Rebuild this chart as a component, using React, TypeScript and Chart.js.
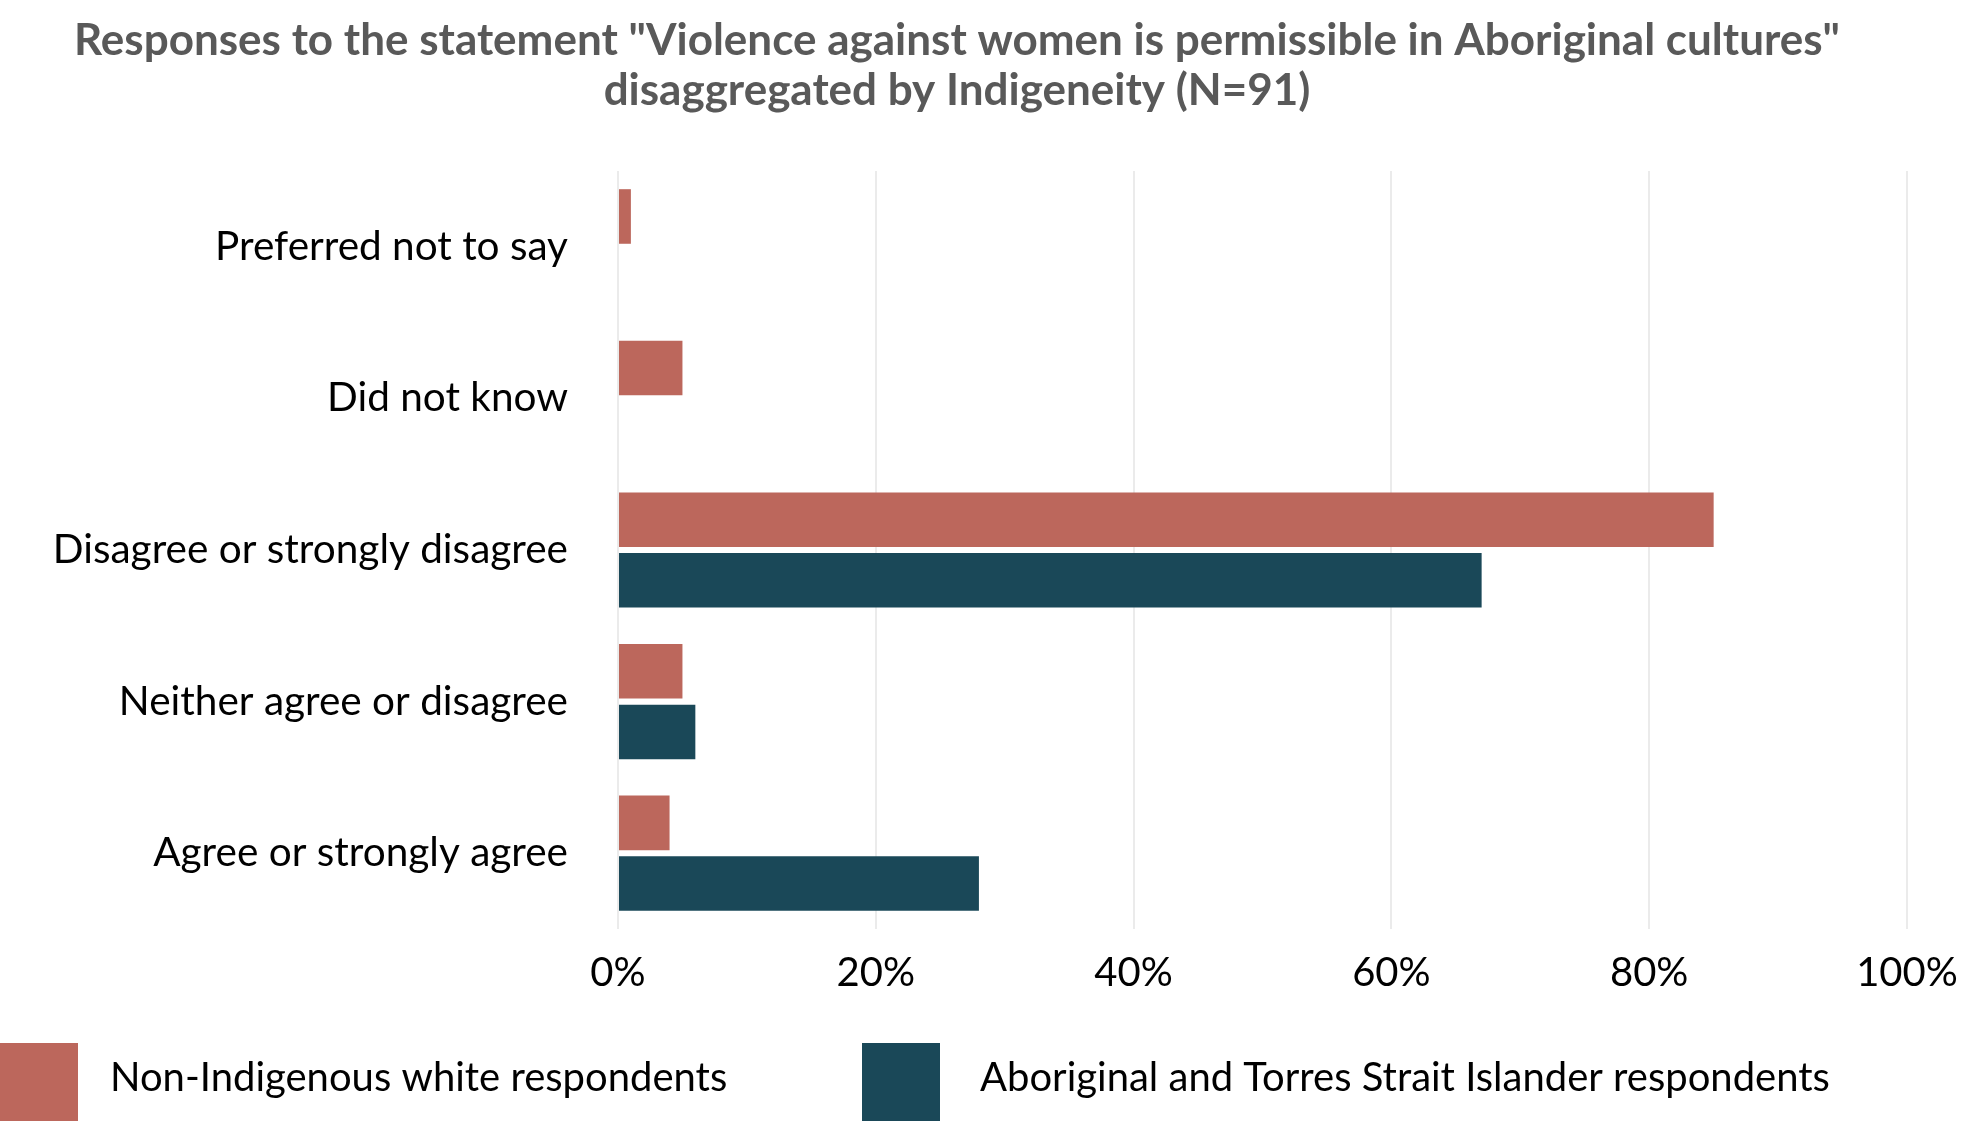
import React, { useEffect, useRef } from "react";
import { Chart, registerables } from "chart.js";

Chart.register(...registerables);

const TITLE_LINES = [
  'Responses to the statement "Violence against women is permissible in Aboriginal cultures"',
  "disaggregated by Indigeneity (N=91)",
];
const CATEGORIES = [
  "Preferred not to say",
  "Did not know",
  "Disagree or strongly disagree",
  "Neither agree or disagree",
  "Agree or strongly agree",
];
const NON_INDIGENOUS = [1, 5, 85, 5, 4];
const ABORIGINAL = [0, 0, 67, 6, 28];
const SERIES_LABELS = [
  "Non-Indigenous white respondents",
  "Aboriginal and Torres Strait Islander respondents",
];
const SERIES_COLORS = ["#bc675c", "#1a4858"];
const X_TICKS = [0, 20, 40, 60, 80, 100];

const FONT = "Lato, 'Open Sans', sans-serif";

const overlayPlugin = {
  id: "overlay",
  afterDraw(chart: any) {
    const ctx = chart.ctx;
    ctx.save();
    ctx.fillStyle = "#595959";
    ctx.font = `bold 44px ${FONT}`;
    ctx.textAlign = "center";
    ctx.textBaseline = "middle";
    TITLE_LINES.forEach((t, i) => ctx.fillText(t, 957, 41 + i * 50));
    const boxX = [0, 862];
    const textX = [110, 980];
    chart.data.datasets.forEach((ds: any, i: number) => {
      ctx.fillStyle = ds.backgroundColor;
      ctx.fillRect(boxX[i], 1043, 78, 78);
      ctx.fillStyle = "#000";
      ctx.font = `40px ${FONT}`;
      ctx.textAlign = "left";
      ctx.fillText(ds.label, textX[i], 1078);
    });
    ctx.restore();
  },
};

export default function App() {
  const ref = useRef<HTMLCanvasElement>(null);
  useEffect(() => {
    if (!ref.current) return;
    const chart = new Chart(ref.current, {
      type: "bar",
      data: {
        labels: CATEGORIES,
        datasets: [
          { label: SERIES_LABELS[0], data: NON_INDIGENOUS, backgroundColor: SERIES_COLORS[0] },
          { label: SERIES_LABELS[1], data: ABORIGINAL, backgroundColor: SERIES_COLORS[1] },
        ],
      },
      options: {
        indexAxis: "y",
        responsive: false,
        animation: false,
        devicePixelRatio: 1,
        categoryPercentage: 0.8,
        barPercentage: 0.9,
        layout: { padding: { top: 171, right: 56, bottom: 112, left: 0 } },
        plugins: {
          legend: { display: false },
          title: { display: false },
          tooltip: { enabled: false },
        },
        scales: {
          x: {
            min: 0,
            max: 100,
            afterBuildTicks(scale: any) {
              scale.ticks = X_TICKS.map((v) => ({ value: v }));
            },
            afterFit(scale: any) {
              scale.height = 80;
              scale.paddingLeft = 0;
              scale.paddingRight = 0;
            },
            grid: { color: "#ebebeb", lineWidth: 2, drawTicks: false },
            border: { display: false },
            ticks: {
              padding: 20,
              color: "#000",
              font: { family: FONT, size: 40 },
              callback: (v: any) => v + "%",
            },
          },
          y: {
            afterFit(scale: any) {
              scale.width = 618;
            },
            grid: { display: false, drawTicks: false },
            border: { display: false },
            ticks: {
              padding: 50,
              color: "#000",
              font: { family: FONT, size: 40.5 },
            },
          },
        },
      },
      plugins: [overlayPlugin],
    });
    return () => chart.destroy();
  }, []);
  return (
    <canvas
      ref={ref}
      width={1963}
      height={1121}
      style={{ position: "absolute", left: 0, top: 0, display: "block" }}
    />
  );
}
